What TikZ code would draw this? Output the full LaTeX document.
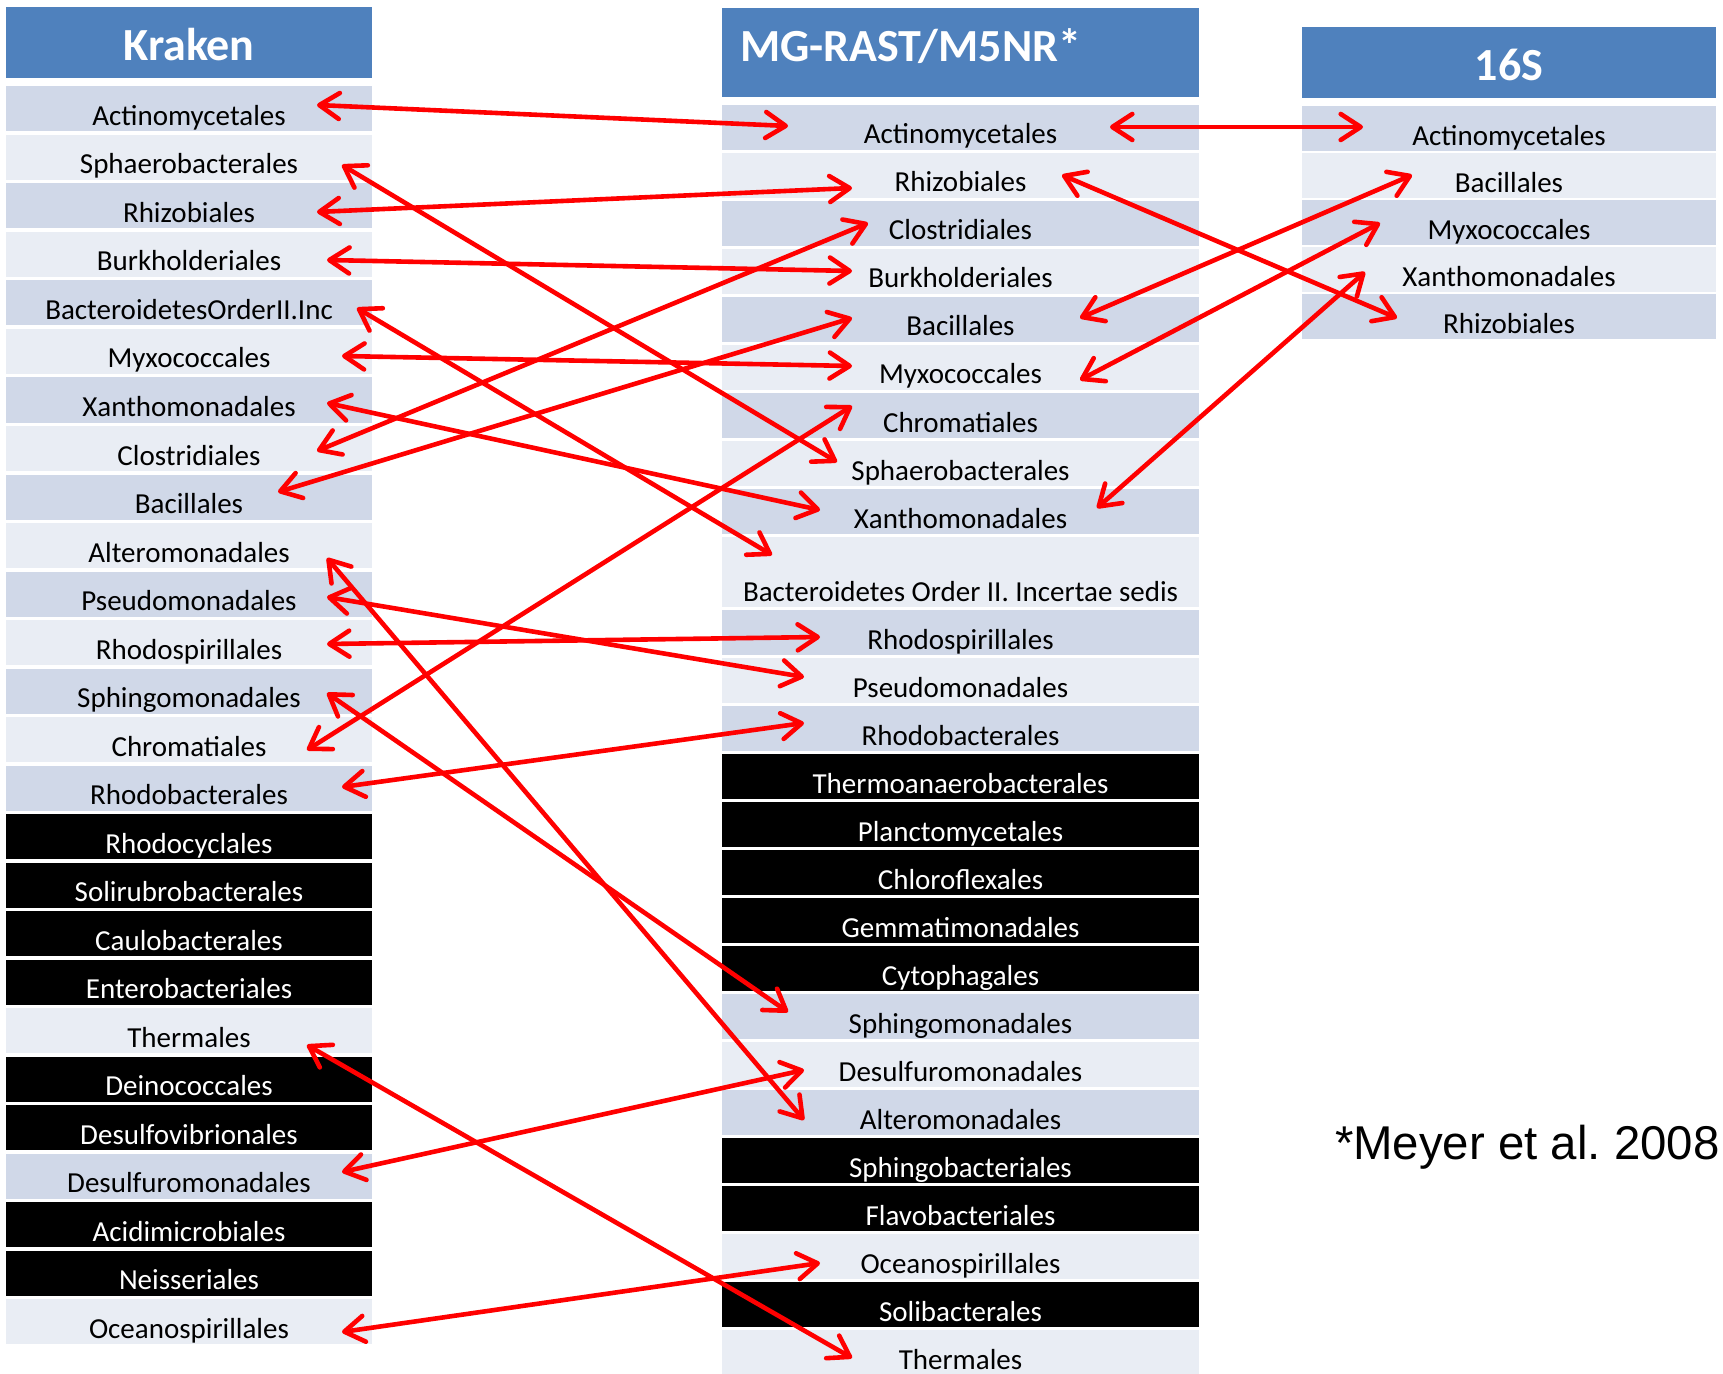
\documentclass[tikz,border=0pt]{standalone}
\usepackage{fontspec}
\setmainfont{Carlito}
\newfontfamily\notefont{Liberation Sans}
\usetikzlibrary{arrows.meta,positioning,calc}
\definecolor{headblue}{RGB}{79,129,189}
\definecolor{banddark}{RGB}{208,216,232}
\definecolor{bandlight}{RGB}{233,237,244}
\definecolor{linkred}{RGB}{255,0,0}

\begin{document}
\begin{tikzpicture}[
    x=0.5pt, y=-0.5pt,
    every node/.style={inner sep=0pt, outer sep=0pt},
    >={Straight Barb[length=10pt,width=13pt,round]},
    head/.style={fill=headblue, text=white, font=\fontsize{23}{27}\selectfont\bfseries, text height=27pt, text depth=8.75pt},
    row/.style={font=\fontsize{14.5}{17}\selectfont, text height=19.5pt, text depth=3pt},
    dark/.style={fill=banddark},
    light/.style={fill=bandlight},
    blk/.style={fill=black, text=white},
    kcol/.style={minimum width=183pt},
    mcol/.style={minimum width=238.5pt},
    scol/.style={minimum width=207pt},
    link/.style={<->, draw=linkred, line width=2.3pt}
  ]
  \useasboundingbox (0,0) rectangle (1723,1374);

  % Kraken
  \node[head, kcol, anchor=north west] (khead) at (6,7) {Kraken};
  \node[row, dark, kcol, below=4pt of khead] (kact) {Actinomycetales};
  \node[row, light, kcol, below=1.75pt of kact] (ksph) {Sphaerobacterales};
  \node[row, dark, kcol, below=1.75pt of ksph] (krhi) {Rhizobiales};
  \node[row, light, kcol, below=1.75pt of krhi] (kbur) {Burkholderiales};
  \node[row, dark, kcol, below=1.75pt of kbur] (kbac) {BacteroidetesOrderII.Inc};
  \node[row, light, kcol, below=1.75pt of kbac] (kmyx) {Myxococcales};
  \node[row, dark, kcol, below=1.75pt of kmyx] (kxan) {Xanthomonadales};
  \node[row, light, kcol, below=1.75pt of kxan] (kclo) {Clostridiales};
  \node[row, dark, kcol, below=1.75pt of kclo] (kbcl) {Bacillales};
  \node[row, light, kcol, below=1.75pt of kbcl] (kalt) {Alteromonadales};
  \node[row, dark, kcol, below=1.75pt of kalt] (kpse) {Pseudomonadales};
  \node[row, light, kcol, below=1.75pt of kpse] (krsp) {Rhodospirillales};
  \node[row, dark, kcol, below=1.75pt of krsp] (ksgm) {Sphingomonadales};
  \node[row, light, kcol, below=1.75pt of ksgm] (kchr) {Chromatiales};
  \node[row, dark, kcol, below=1.75pt of kchr] (krba) {Rhodobacterales};
  \node[row, blk, kcol, below=1.75pt of krba] (krcy) {Rhodocyclales};
  \node[row, blk, kcol, below=1.75pt of krcy] (ksol) {Solirubrobacterales};
  \node[row, blk, kcol, below=1.75pt of ksol] (kcau) {Caulobacterales};
  \node[row, blk, kcol, below=1.75pt of kcau] (kent) {Enterobacteriales};
  \node[row, light, kcol, below=1.75pt of kent] (kthe) {Thermales};
  \node[row, blk, kcol, below=1.75pt of kthe] (kdei) {Deinococcales};
  \node[row, blk, kcol, below=1.75pt of kdei] (kdvi) {Desulfovibrionales};
  \node[row, dark, kcol, below=1.75pt of kdvi] (kdfm) {Desulfuromonadales};
  \node[row, blk, kcol, below=1.75pt of kdfm] (kaci) {Acidimicrobiales};
  \node[row, blk, kcol, below=1.75pt of kaci] (knei) {Neisseriales};
  \node[row, light, kcol, below=1.75pt of knei] (koce) {Oceanospirillales};

  % MG-RAST
  \node[head, text depth=17.5pt, text width=220.5pt, align=left, inner xsep=9pt, anchor=north west] (mhead) at (722,8) {MG-RAST/M5NR*};
  \node[row, dark, mcol, below=4pt of mhead] (mact) {Actinomycetales};
  \node[row, light, mcol, below=1.5pt of mact] (mrhi) {Rhizobiales};
  \node[row, dark, mcol, below=1.5pt of mrhi] (mclo) {Clostridiales};
  \node[row, light, mcol, below=1.5pt of mclo] (mbur) {Burkholderiales};
  \node[row, dark, mcol, below=1.5pt of mbur] (mbcl) {Bacillales};
  \node[row, light, mcol, below=1.5pt of mbcl] (mmyx) {Myxococcales};
  \node[row, dark, mcol, below=1.5pt of mmyx] (mchr) {Chromatiales};
  \node[row, light, mcol, below=1.5pt of mchr] (msph) {Sphaerobacterales};
  \node[row, dark, mcol, below=1.5pt of msph] (mxan) {Xanthomonadales};
  \node[row, light, mcol, text height=32pt, below=1.5pt of mxan] (mbac) {Bacteroidetes Order II. Incertae sedis};
  \node[row, dark, mcol, below=1.5pt of mbac] (mrsp) {Rhodospirillales};
  \node[row, light, mcol, below=1.5pt of mrsp] (mpse) {Pseudomonadales};
  \node[row, dark, mcol, below=1.5pt of mpse] (mrba) {Rhodobacterales};
  \node[row, blk, mcol, below=1.5pt of mrba] (mtan) {Thermoanaerobacterales};
  \node[row, blk, mcol, below=1.5pt of mtan] (mpla) {Planctomycetales};
  \node[row, blk, mcol, below=1.5pt of mpla] (mchl) {Chloroflexales};
  \node[row, blk, mcol, below=1.5pt of mchl] (mgem) {Gemmatimonadales};
  \node[row, blk, mcol, below=1.5pt of mgem] (mcyt) {Cytophagales};
  \node[row, dark, mcol, below=1.5pt of mcyt] (msgm) {Sphingomonadales};
  \node[row, light, mcol, below=1.5pt of msgm] (mdfm) {Desulfuromonadales};
  \node[row, dark, mcol, below=1.5pt of mdfm] (malt) {Alteromonadales};
  \node[row, blk, mcol, below=1.5pt of malt] (msgb) {Sphingobacteriales};
  \node[row, blk, mcol, below=1.5pt of msgb] (mfla) {Flavobacteriales};
  \node[row, light, mcol, below=1.5pt of mfla] (moce) {Oceanospirillales};
  \node[row, blk, mcol, below=1.5pt of moce] (msob) {Solibacterales};
  \node[row, light, mcol, below=1.5pt of msob] (mthe) {Thermales};

  % 16S
  \node[head, scol, anchor=north west] (shead) at (1302,27) {16S};
  \node[row, dark, scol, below=4pt of shead] (sact) {Actinomycetales};
  \node[row, light, scol, below=1pt of sact] (sbcl) {Bacillales};
  \node[row, dark, scol, below=1pt of sbcl] (smyx) {Myxococcales};
  \node[row, light, scol, below=1pt of smyx] (sxan) {Xanthomonadales};
  \node[row, dark, scol, below=1pt of sxan] (srhi) {Rhizobiales};

  \node[anchor=base west, font=\notefont\fontsize{23.7}{28}\selectfont] (cite) at (1335,1159) {*Meyer et al.\ 2008};

  % links
  \draw[link] ($(kact.east)+(-55,-4)$) -- ($(mact.west)+(66,-1.5)$);
  \draw[link] ($(mact.east)+(-89,-0.5)$) -- ($(sact.west)+(61,-2)$);
  \draw[link] ($(ksph.east)+(-30,7.5)$) -- ($(msph.west)+(115,-1.5)$);
  \draw[link] ($(krhi.east)+(-55,6)$) -- ($(mrhi.west)+(130,12.5)$);
  \draw[link] ($(mrhi.east)+(-137,-0.5)$) -- ($(srhi.west)+(95,1)$);
  \draw[link] ($(kbur.east)+(-45,5.5)$) -- ($(mbur.west)+(130,-0.5)$);
  \draw[link] ($(kbac.east)+(-15,5)$) -- ($(mbac.west)+(50,-17)$);
  \draw[link] ($(kmyx.east)+(-30,4.5)$) -- ($(mmyx.west)+(130,-1.5)$);
  \draw[link] ($(mbcl.east)+(-119,-1.5)$) -- ($(sbcl.west)+(110,-1)$);
  \draw[link] ($(mmyx.east)+(-119,12.5)$) -- ($(smyx.west)+(78,0)$);
  \draw[link] ($(kxan.east)+(-45,3)$) -- ($(mxan.west)+(98,-1.5)$);
  \draw[link] ($(mxan.east)+(-102,-3.5)$) -- ($(sxan.west)+(63,2)$);
  \draw[link] ($(kclo.east)+(-55,2.5)$) -- ($(mclo.west)+(146,-0.5)$);
  \draw[link] ($(kbcl.east)+(-94,-5)$) -- ($(mbcl.west)+(130,-1.5)$);
  \draw[link] ($(kalt.east)+(-45,12.5)$) -- ($(malt.west)+(82,7.5)$);
  \draw[link] ($(kpse.east)+(-45,3)$) -- ($(mpse.west)+(82,-3.5)$);
  \draw[link] ($(krsp.east)+(-45,1.5)$) -- ($(mrsp.west)+(98,4.5)$);
  \draw[link] ($(ksgm.east)+(-45,2)$) -- ($(msgm.west)+(66,-4.5)$);
  \draw[link] ($(kchr.east)+(-65,10.5)$) -- ($(mchr.west)+(130,-9.5)$);
  \draw[link] ($(krba.east)+(-30,-1)$) -- ($(mrba.west)+(82,-5.5)$);
  \draw[link] ($(kthe.east)+(-65,14.5)$) -- ($(mthe.west)+(130,5.5)$);
  \draw[link] ($(kdfm.east)+(-30,-4)$) -- ($(mdfm.west)+(82,5.5)$);
  \draw[link] ($(koce.east)+(-30,10.5)$) -- ($(moce.west)+(98,6.5)$);
\end{tikzpicture}
\end{document}
